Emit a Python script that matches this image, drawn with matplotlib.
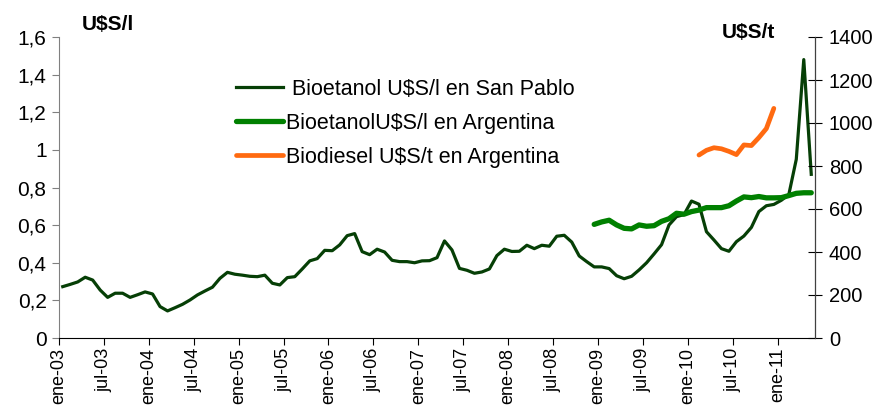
import numpy as np
import matplotlib
matplotlib.use("Agg")
import matplotlib.pyplot as plt

plt.rcParams['font.family'] = ['Liberation Sans', 'DejaVu Sans']

# monthly values, ene-03 .. may-11
san_pablo = [0.273, 0.285, 0.298, 0.323, 0.308, 0.255, 0.216, 0.238, 0.238, 0.216,
             0.230, 0.245, 0.234, 0.167, 0.144, 0.161, 0.179, 0.202, 0.229, 0.250,
             0.270, 0.317, 0.349, 0.339, 0.334, 0.328, 0.326, 0.334, 0.291, 0.282,
             0.321, 0.326, 0.367, 0.410, 0.422, 0.466, 0.464, 0.495, 0.544, 0.555,
             0.459, 0.443, 0.472, 0.457, 0.413, 0.406, 0.406, 0.400, 0.410, 0.411,
             0.427, 0.516, 0.468, 0.370, 0.360, 0.344, 0.351, 0.367, 0.438, 0.472,
             0.460, 0.461, 0.493, 0.475, 0.493, 0.488, 0.541, 0.546, 0.510, 0.436,
             0.406, 0.378, 0.378, 0.369, 0.331, 0.315, 0.328, 0.362, 0.400, 0.447,
             0.496, 0.601, 0.645, 0.656, 0.728, 0.711, 0.565, 0.521, 0.475, 0.461,
             0.512, 0.542, 0.588, 0.672, 0.703, 0.710, 0.732, 0.762, 0.950, 1.480,
             0.870]

arg_start = 71
argentina = [0.604, 0.617, 0.626, 0.601, 0.583, 0.580, 0.601, 0.594, 0.597, 0.620,
             0.634, 0.663, 0.658, 0.672, 0.680, 0.693, 0.693, 0.693, 0.703, 0.728,
             0.750, 0.746, 0.752, 0.745, 0.745, 0.746, 0.757, 0.769, 0.772, 0.772]

bio_start = 85
biodiesel = [851, 873, 885, 880, 868, 853, 898, 895, 932, 974, 1068]

tick_labels = ['ene-03', 'jul-03', 'ene-04', 'jul-04', 'ene-05', 'jul-05', 'ene-06',
               'jul-06', 'ene-07', 'jul-07', 'ene-08', 'jul-08', 'ene-09', 'jul-09',
               'ene-10', 'jul-10', 'ene-11']

x_sp = np.arange(len(san_pablo)) + 0.5
x_arg = np.arange(arg_start, arg_start + len(argentina)) + 0.5
x_bio = np.arange(bio_start, bio_start + len(biodiesel)) + 0.5

fig = plt.figure(figsize=(8.8, 4.05), dpi=100)
ax = fig.add_axes([59/880, 67/405, 756/880, 301/405])
ax2 = ax.twinx()

l1, = ax.plot(x_sp, san_pablo, color='#063f06', lw=2.3, label=' Bioetanol U$S/l en San Pablo')
l2, = ax.plot(x_arg, argentina, color='#008000', lw=3.8, solid_capstyle='round',
              label='BioetanolU$S/l en Argentina')
l3, = ax2.plot(x_bio, biodiesel, color='#ff6a10', lw=3.4, solid_capstyle='round',
               label='Biodiesel U$S/t en Argentina')

ax.set_xlim(0, len(san_pablo))
ax.set_ylim(0, 1.6)
ax2.set_ylim(0, 1400)

ax.set_yticks(np.arange(0, 1.61, 0.2))
ax.set_yticklabels(['0', '0,2', '0,4', '0,6', '0,8', '1', '1,2', '1,4', '1,6'])
ax2.set_yticks(np.arange(0, 1401, 200))
ax.set_xticks(np.arange(0, 97, 6))
ax.set_xticklabels(tick_labels, rotation=90)

ax.tick_params(axis='y', labelsize=15, length=5, color='#808080', pad=4)
ax.tick_params(axis='x', labelsize=13, length=5, pad=2)
ax2.tick_params(axis='y', labelsize=14.5, length=10, direction='inout', pad=5)

for a in (ax, ax2):
    a.spines['top'].set_visible(False)
ax.spines['left'].set_color('#808080')
ax2.spines['left'].set_visible(False)
ax2.spines['bottom'].set_visible(False)
ax2.spines['right'].set_color('#404040')

fig.text(82/880, 1 - 25/405, 'U$S/l', fontsize=15, fontweight='bold', va='center')
fig.text(722/880, 1 - 33/405, 'U$S/t', fontsize=15, fontweight='bold', va='center')

fig.legend(handles=[l1, l2, l3], loc='upper left', bbox_to_anchor=(225/880, 1 - 68/405),
           frameon=False, fontsize=15.5, handlelength=2.2, handletextpad=0.15,
           labelspacing=0.6, borderpad=0)

fig.savefig('out.png', dpi=100)
